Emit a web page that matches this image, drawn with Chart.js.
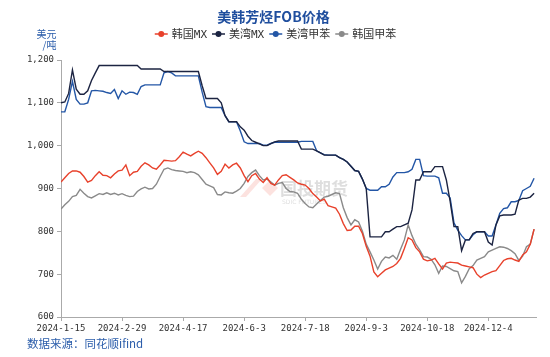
<!DOCTYPE html>
<html>
<head>
<meta charset="utf-8">
<script src="https://cdn.jsdelivr.net/npm/chart.js@4.4.1/dist/chart.umd.min.js"></script>
<style>
html,body{margin:0;padding:0;background:#fff;}
#wrap{width:550px;height:357px;}
</style>
</head>
<body>
<div id="wrap"><canvas id="c" width="550" height="357"></canvas></div>
<script>
// x tick labels (one tick every 16 samples; a sample every 2 trading days)
const tickLabels = ['2024-1-15','2024-2-29','2024-4-17','2024-6-3','2024-7-18','2024-9-3','2024-10-18','2024-12-4'];
const yTicks = [600,700,800,900,1000,1100,1200];
const seriesNames = ['韩国MX','美湾MX','美湾甲苯','韩国甲苯'];

const krMX = [915,925,935,941,941,938,928,915,919,930,939,931,930,925,934,941,943,955,930,938,
940,952,960,955,948,945,955,966,965,964,965,974,985,980,976,982,987,982,972,960,
948,933,940,957,948,955,959,948,930,916,930,935,922,914,925,912,908,920,930,932,
926,920,913,910,908,900,888,880,871,875,860,857,854,840,818,802,803,812,812,795,
765,742,705,694,702,710,714,718,725,737,760,785,780,762,752,735,731,733,737,724,
712,726,728,727,726,721,719,717,715,700,692,698,702,706,708,720,732,736,737,733,
730,745,752,770,805];

const usMX = [1100,1102,1122,1177,1132,1120,1120,1128,1152,1170,1187,1187,1187,1187,1187,1187,1187,1187,1187,1187,
1187,1179,1179,1179,1179,1179,1179,1173,1173,1173,1173,1173,1173,1173,1173,1173,1173,1140,1110,1110,
1110,1110,1100,1070,1056,1056,1056,1044,1036,1022,1012,1008,1004,1000,1000,1005,1009,1011,1011,1011,
1011,1011,1011,992,992,992,992,988,983,978,978,978,978,972,968,962,952,942,940,922,
900,787,787,787,787,799,799,805,811,811,815,819,850,920,920,939,939,939,951,951,
951,920,870,811,811,755,780,780,795,799,799,799,775,768,815,836,838,838,838,840,
873,877,877,880,889];

const usTol = [1079,1079,1108,1150,1108,1097,1097,1100,1128,1129,1128,1127,1124,1122,1131,1110,1128,1120,1125,1124,
1120,1138,1142,1142,1142,1142,1142,1170,1173,1170,1163,1163,1163,1163,1163,1163,1163,1125,1091,1089,
1089,1089,1089,1070,1056,1056,1056,1034,1009,1005,1005,1005,1005,1001,1001,1005,1008,1008,1008,1008,
1008,1008,1008,1010,1010,1010,1010,988,983,979,978,978,978,972,968,962,952,942,940,922,
900,896,896,896,904,904,910,927,937,937,937,939,945,968,968,930,929,929,929,925,
889,889,878,820,803,790,780,780,792,799,799,799,789,789,815,842,853,855,869,869,
872,895,900,905,924];

const krTol = [852,862,870,881,884,898,889,881,878,883,888,886,890,886,889,885,888,884,881,882,
893,899,903,899,900,910,928,945,948,944,942,941,940,937,939,937,932,921,910,906,
902,886,885,892,890,889,894,900,912,928,937,943,930,920,922,915,908,912,914,900,
893,892,889,875,865,857,855,864,872,880,882,886,890,888,855,832,815,827,822,800,
770,752,733,712,730,740,738,744,735,758,780,815,790,770,757,741,740,735,722,702,
719,718,713,708,706,680,695,713,720,733,737,741,752,756,760,764,763,760,755,748,
732,742,764,770,805];

const colors = ['#e8412b','#1c2442','#2356a6','#8a8a8a'];
const seriesData = [krMX, usMX, usTol, krTol];

const toXY = arr => arr.map((v,i)=>({x:i,y:v}));

const overlay = {
  id:'overlay',
  beforeDatasetsDraw(chart){
    const ctx = chart.ctx;
    ctx.save();
    // faint watermark logo
    ctx.fillStyle = 'rgba(245,150,140,0.28)';
    ctx.beginPath();
    ctx.moveTo(240,197); ctx.lineTo(256,179); ctx.lineTo(262,179); ctx.lineTo(246,197); ctx.closePath(); ctx.fill();
    ctx.beginPath();
    ctx.moveTo(262,188); ctx.lineTo(270,180); ctx.lineTo(278,188); ctx.lineTo(270,196); ctx.closePath(); ctx.fill();
    ctx.fillStyle = 'rgba(160,160,160,0.35)';
    ctx.font = 'bold 17px "Noto Sans CJK SC"';
    ctx.textBaseline = 'middle';
    ctx.fillText('国投期货', 280, 189);
    ctx.font = '6px "DejaVu Sans"';
    ctx.fillText('SDIC FUTURES', 282, 202);
    ctx.restore();
  },
  afterDraw(chart){
    const ctx = chart.ctx;
    ctx.save();
    // title
    ctx.fillStyle = '#1f4e9e';
    ctx.font = 'bold 14px "Noto Sans CJK SC"';
    ctx.textAlign = 'center';
    ctx.textBaseline = 'middle';
    ctx.fillText('美韩芳烃FOB价格', 273.5, 17);
    // legend
    ctx.font = '11px "DejaVu Sans Mono", "Noto Sans CJK SC"';
    ctx.textAlign = 'left';
    const mk = 13, g1 = 4, g2 = 5;
    const widths = seriesNames.map(n => ctx.measureText(n).width);
    let total = widths.reduce((a,w)=>a+mk+g1+w+g2,0) - g2;
    let x = 275.5 - total/2;
    const ly = 34;
    seriesNames.forEach((n,k)=>{
      ctx.strokeStyle = colors[k];
      ctx.lineWidth = 1.5;
      ctx.beginPath(); ctx.moveTo(x, ly); ctx.lineTo(x+mk, ly); ctx.stroke();
      ctx.fillStyle = colors[k];
      ctx.beginPath(); ctx.arc(x+mk/2, ly, 3, 0, Math.PI*2); ctx.fill();
      ctx.fillStyle = '#333';
      ctx.fillText(n, x+mk+g1, ly+1);
      x += mk+g1+widths[k]+g2;
    });
    // unit
    ctx.fillStyle = '#2a5caa';
    ctx.font = '10px "Noto Sans CJK SC"';
    ctx.textAlign = 'right';
    ctx.fillText('美元', 56.5, 34.5);
    ctx.fillText('/吨', 56.5, 45);
    // footer
    ctx.textAlign = 'left';
    ctx.font = '11.5px "Noto Sans CJK SC"';
    ctx.fillStyle = '#2a5caa';
    ctx.fillText('数据来源：同花顺ifind', 27, 344);
    ctx.restore();
  }
};

new Chart(document.getElementById('c'), {
  type:'line',
  data:{
    datasets: seriesNames.map((n,k)=>({
      label:n,
      data: toXY(seriesData[k]),
      borderColor: colors[k],
      backgroundColor: colors[k],
      borderWidth: 1.4,
      pointRadius: 0,
      tension: 0,
      fill:false
    }))
  },
  options:{
    responsive:false,
    animation:false,
    events:[],
    layout:{padding:{top:60,right:14,bottom:0,left:0}},
    plugins:{legend:{display:false},title:{display:false},tooltip:{enabled:false}},
    scales:{
      x:{
        type:'linear',
        min:0, max:124.5,
        afterBuildTicks(s){ s.ticks = tickLabels.map((_,k)=>({value:k*16})); },
        afterFit(s){ s.height = 40; },
        ticks:{
          callback:(v)=> tickLabels[Math.round(v/16)] ?? '',
          font:{family:'"DejaVu Sans Mono"', size:9},
          color:'#333',
          maxRotation:0, autoSkip:false, padding:2
        },
        grid:{display:true, drawOnChartArea:false, drawTicks:true, tickLength:4, color:'#aaa'},
        border:{display:true, color:'#aaa'}
      },
      y:{
        min:600, max:1200,
        afterBuildTicks(s){ s.ticks = yTicks.map(v=>({value:v})); },
        afterFit(s){ s.width = 61; },
        ticks:{
          callback:(v)=> v.toLocaleString('en-US'),
          font:{family:'"DejaVu Sans Mono"', size:9},
          color:'#333',
          padding:3
        },
        grid:{display:true, drawOnChartArea:false, drawTicks:true, tickLength:4, color:'#aaa'},
        border:{display:true, color:'#aaa'}
      }
    }
  },
  plugins:[overlay]
});
</script>
</body>
</html>
